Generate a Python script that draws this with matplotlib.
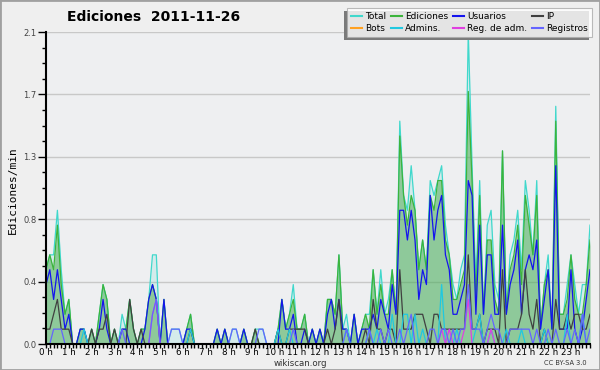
import numpy as np
import matplotlib
matplotlib.use("Agg")
import matplotlib.pyplot as plt
from matplotlib.lines import Line2D
from matplotlib.patches import Rectangle

# Ediciones por intervalo de 10 minutos (144 intervalos, 6 por hora)
total = [5, 6, 6, 9, 5, 2,  3, 0, 0, 1, 1, 0,  1, 0, 2, 4, 3, 0,  1, 0, 2, 1, 3, 1,
         0, 1, 1, 3, 6, 6,  0, 3, 0, 1, 1, 1,  0, 1, 2, 0, 0, 0,  0, 0, 0, 1, 0, 1,
         0, 1, 1, 0, 1, 0,  0, 1, 1, 1, 0, 0,  0, 1, 3, 1, 2, 4,  1, 1, 2, 0, 1, 0,
         1, 0, 3, 3, 2, 6,  1, 2, 0, 2, 0, 1,  2, 2, 5, 2, 5, 2,  3, 5, 2, 15, 10, 9,
         12, 9, 5, 7, 5, 11,  10, 11, 12, 8, 6, 4,  3, 5, 6, 21, 12, 4,  11, 2, 8, 9, 4, 3,
         13, 2, 6, 7, 9, 5,  11, 9, 6, 11, 1, 4,  6, 1, 16, 2, 2, 4,  6, 4, 2, 4, 4, 8]
ediciones = [5, 6, 5, 8, 4, 2,  3, 0, 0, 1, 1, 0,  1, 0, 2, 4, 3, 0,  1, 0, 1, 1, 3, 1,
             0, 1, 1, 3, 4, 3,  0, 3, 0, 0, 0, 0,  0, 1, 2, 0, 0, 0,  0, 0, 0, 1, 0, 1,
             0, 0, 0, 0, 1, 0,  0, 1, 0, 0, 0, 0,  0, 1, 3, 1, 2, 3,  1, 1, 2, 0, 1, 0,
             1, 0, 3, 3, 2, 6,  1, 1, 0, 2, 0, 1,  2, 1, 5, 2, 4, 2,  2, 5, 2, 14, 10, 8,
             10, 9, 5, 7, 5, 10,  9, 11, 11, 7, 6, 3,  3, 4, 5, 17, 11, 3,  10, 2, 7, 7, 3, 2,
             13, 2, 5, 6, 8, 4,  10, 8, 6, 10, 1, 4,  5, 1, 15, 2, 2, 3,  6, 3, 2, 2, 4, 7]
usuarios = [4, 5, 3, 5, 3, 1,  2, 0, 0, 1, 1, 0,  0, 0, 1, 3, 1, 0,  0, 0, 1, 1, 0, 0,
            0, 0, 1, 3, 4, 3,  0, 3, 0, 0, 0, 0,  0, 1, 1, 0, 0, 0,  0, 0, 0, 1, 0, 1,
            0, 0, 0, 0, 1, 0,  0, 0, 0, 0, 0, 0,  0, 0, 3, 1, 1, 2,  0, 0, 1, 0, 1, 0,
            1, 0, 2, 3, 1, 3,  1, 1, 0, 2, 0, 1,  1, 1, 2, 1, 3, 2,  1, 4, 2, 9, 9, 7,
            9, 7, 3, 5, 4, 10,  7, 9, 10, 6, 5, 2,  2, 3, 4, 11, 10, 2,  8, 2, 6, 6, 2, 2,
            8, 2, 4, 5, 7, 2,  5, 6, 5, 7, 1, 3,  5, 1, 12, 1, 1, 1,  5, 1, 0, 1, 3, 5]
ip = [1, 1, 2, 3, 1, 1,  1, 0, 0, 0, 0, 0,  1, 0, 1, 1, 2, 0,  1, 0, 0, 0, 3, 1,
      0, 1, 0, 0, 0, 0,  0, 0, 0, 0, 0, 0,  0, 0, 1, 0, 0, 0,  0, 0, 0, 0, 0, 0,
      0, 0, 0, 0, 0, 0,  0, 1, 0, 0, 0, 0,  0, 1, 0, 0, 1, 1,  1, 1, 1, 0, 0, 0,
      0, 0, 1, 0, 1, 3,  0, 0, 0, 0, 0, 0,  1, 0, 3, 1, 1, 0,  1, 1, 0, 5, 1, 1,
      1, 2, 2, 2, 1, 0,  2, 2, 1, 1, 1, 1,  1, 1, 1, 6, 1, 1,  2, 0, 1, 1, 1, 0,
      5, 0, 1, 1, 1, 2,  5, 2, 1, 3, 0, 1,  0, 0, 3, 1, 1, 2,  1, 2, 2, 1, 1, 2]
bots = [0] * 144
admins = [0, 0, 0, 0, 0, 0,  0, 0, 0, 0, 1, 0,  0, 0, 0, 0, 0, 0,  0, 0, 0, 0, 0, 0,
          0, 0, 0, 0, 0, 0,  0, 0, 0, 0, 0, 0,  0, 0, 1, 0, 0, 0,  0, 0, 0, 0, 0, 0,
          0, 0, 0, 0, 0, 0,  0, 0, 0, 0, 0, 0,  0, 1, 0, 0, 1, 0,  0, 0, 0, 0, 0, 0,
          0, 0, 0, 0, 0, 0,  0, 1, 0, 0, 0, 0,  0, 1, 0, 1, 0, 0,  0, 2, 0, 0, 2, 2,
          0, 2, 0, 1, 0, 0,  0, 0, 4, 0, 0, 0,  1, 0, 0, 0, 0, 1,  2, 0, 0, 1, 0, 0,
          0, 1, 0, 0, 0, 1,  0, 0, 0, 0, 0, 1,  0, 0, 0, 0, 0, 2,  0, 0, 0, 2, 0, 0]
regAdm = [0, 0, 0, 0, 0, 0,  0, 0, 0, 0, 0, 0,  0, 0, 0, 0, 0, 0,  0, 0, 0, 0, 0, 0,
          0, 0, 0, 0, 2, 3,  0, 0, 0, 0, 0, 0,  0, 0, 0, 0, 0, 0,  0, 0, 0, 0, 0, 0,
          0, 0, 0, 0, 0, 0,  0, 0, 0, 0, 0, 0,  0, 0, 0, 0, 0, 0,  0, 0, 0, 0, 0, 0,
          0, 0, 0, 0, 0, 0,  0, 0, 0, 0, 0, 0,  0, 0, 0, 0, 0, 0,  0, 0, 0, 0, 0, 0,
          0, 0, 0, 0, 0, 0,  0, 0, 1, 0, 1, 0,  0, 0, 1, 3, 0, 0,  0, 0, 0, 1, 0, 0,
          0, 0, 0, 0, 0, 0,  0, 0, 0, 0, 0, 0,  0, 0, 0, 0, 0, 0,  0, 0, 0, 0, 0, 0]
registros = [0, 0, 1, 1, 1, 0,  0, 0, 0, 0, 0, 0,  0, 0, 0, 0, 0, 0,  0, 0, 1, 0, 0, 0,
             0, 0, 0, 0, 2, 3,  0, 0, 0, 1, 1, 1,  0, 0, 0, 0, 0, 0,  0, 0, 0, 0, 0, 0,
             0, 1, 1, 0, 0, 0,  0, 0, 1, 1, 0, 0,  0, 0, 0, 0, 0, 1,  0, 0, 0, 0, 0, 0,
             0, 0, 0, 0, 0, 0,  0, 1, 0, 0, 0, 0,  0, 1, 0, 0, 1, 0,  1, 0, 0, 1, 0, 1,
             2, 0, 0, 0, 0, 1,  1, 0, 1, 1, 0, 1,  0, 1, 1, 4, 1, 1,  1, 0, 1, 2, 1, 1,
             0, 0, 1, 1, 1, 1,  1, 1, 0, 1, 0, 0,  1, 0, 1, 0, 0, 1,  0, 1, 0, 2, 0, 1]

etiquetasHoras = ["%d h" % h for h in range(24)]
etiquetasY = ["0.0", "0.4", "0.8", "1.3", "1.7", "2.1"]

# Pasar a ediciones por minuto
horas = np.arange(len(total)) / 6.0
porMinuto = lambda serie: np.array(serie) / 10.0

fig = plt.figure(figsize=(6, 3.7), dpi=100, facecolor="#efefef")
ax = fig.add_axes([46 / 600, 1 - 344 / 370, 544 / 600, 312 / 370])
ax.set_facecolor("#eeeff1")

colTotal = "#40d8cc"
colEdic = "#3cb43c"
grosor = 0.9
ax.fill_between(horas, porMinuto(total), color=colTotal, alpha=0.15, lw=0)
ax.plot(horas, porMinuto(total), color=colTotal, lw=grosor)
ax.fill_between(horas, porMinuto(ediciones), color="#4aa84a", alpha=0.5, lw=0)
ax.plot(horas, porMinuto(ediciones), color=colEdic, lw=grosor)

series = [
    ("Usuarios", usuarios, "#1414ee"),
    ("IP", ip, "#404040"),
    ("Bots", bots, "#ffa020"),
    ("Admins.", admins, "#20c8e0"),
    ("Reg. de adm.", regAdm, "#e040e0"),
    ("Registros", registros, "#6464ff"),
]
for nombre, valores, color in series:
    ax.plot(horas, porMinuto(valores), color=color, lw=grosor)

ax.set_xlim(0, horas[-1])
ax.set_ylim(0, 2.1)
ax.set_xticks(np.arange(24))
ax.set_xticklabels(etiquetasHoras)
ax.set_xticks(horas, minor=True)
ax.set_yticks(np.linspace(0, 2.1, 6))
ax.set_yticklabels(etiquetasY)
ax.set_yticks(np.linspace(0, 2.1, 21), minor=True)
ax.yaxis.grid(True, color="#c8c8c8", lw=1)
ax.set_axisbelow(True)

for lado in ["top", "right"]:
    ax.spines[lado].set_visible(False)
for lado in ["left", "bottom"]:
    ax.spines[lado].set_linewidth(1.5)
    ax.spines[lado].set_zorder(5)

ax.tick_params(axis="y", which="major", length=6, width=1, labelsize=6, labelcolor="#444444", pad=1)
ax.tick_params(axis="y", which="minor", length=3, width=1)
ax.tick_params(axis="x", which="major", length=3, width=1, labelsize=6.3, pad=0)
ax.tick_params(axis="x", which="minor", length=3, width=1)

# Titulo, etiquetas y pie
fig.text(154 / 600, 1 - 17 / 370, "Ediciones  2011-11-26", ha="center", va="center",
         fontsize=10, fontweight="bold")
fig.text(13 / 600, 1 - 190 / 370, "Ediciones/min", rotation=90, ha="center", va="center",
         fontsize=8, family="DejaVu Sans Mono")
fig.text(300 / 600, 1 - 364 / 370, "wikiscan.org", ha="center", va="center", fontsize=6.2, color="#333333")
fig.text(565 / 600, 1 - 363 / 370, "CC BY-SA 3.0", ha="center", va="center", fontsize=4.8, color="#333333")

# Leyenda con sombra
fig.patches.append(Rectangle((344 / 600, 1 - 40 / 370), 245 / 600, 29 / 370, transform=fig.transFigure,
                             facecolor="#7a7a7a", edgecolor="none", zorder=4))
manejadores = [
    Line2D([], [], color=colTotal), Line2D([], [], color="#ffa020"),
    Line2D([], [], color=colEdic), Line2D([], [], color="#20c8e0"),
    Line2D([], [], color="#1414ee"), Line2D([], [], color="#e040e0"),
    Line2D([], [], color="#404040"), Line2D([], [], color="#6464ff"),
]
nombres = ["Total", "Bots", "Ediciones", "Admins.", "Usuarios", "Reg. de adm.", "IP", "Registros"]
leg = fig.legend(manejadores, nombres, ncol=4, loc="upper left",
                 bbox_to_anchor=(347 / 600, 1 - 8 / 370, 245 / 600, 0.0), mode="expand",
                 fontsize=6.5, frameon=True, fancybox=False, borderpad=0.45, labelspacing=0.3,
                 handlelength=1.2, handletextpad=0.35, columnspacing=0.4, borderaxespad=0)
leg.get_frame().set_edgecolor("#aaaaaa")
leg.get_frame().set_linewidth(0.8)
leg.set_zorder(6)

# Borde de la imagen
fig.patches.append(Rectangle((0, 0), 1, 1, transform=fig.transFigure, fill=False,
                             edgecolor="#a0a0a0", lw=2))

fig.savefig("out.png", dpi=100, facecolor=fig.get_facecolor())
